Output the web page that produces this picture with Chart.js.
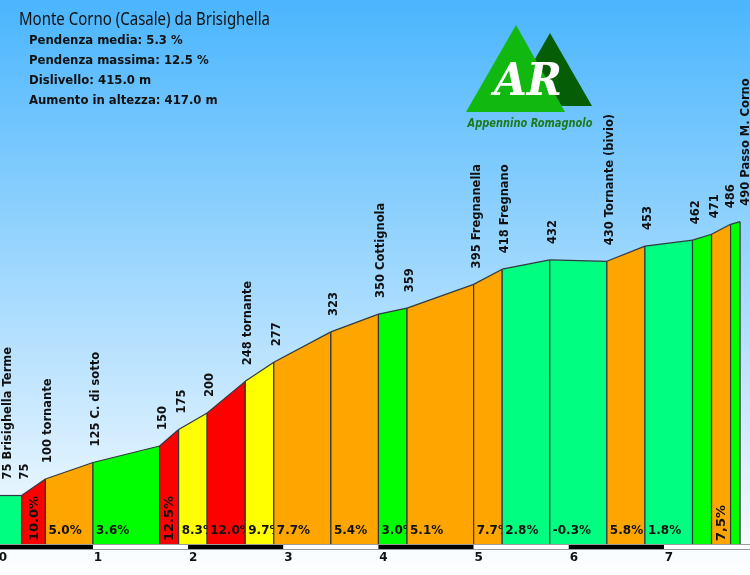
<!DOCTYPE html>
<html>
<head>
<meta charset="utf-8">
<script src="https://cdn.jsdelivr.net/npm/chart.js@4.4.0/dist/chart.umd.min.js"></script>
<style>
  html, body { margin: 0; padding: 0; }
  #wrap { position: relative; width: 750px; height: 575px; background: linear-gradient(#4ab5fd, #ffffff); overflow: hidden; }
  #profile { position: absolute; left: 0; top: 0; }
  #overlay { position: absolute; left: 0; top: 0; }
</style>
</head>
<body>
<div id="wrap">
  <canvas id="profile" width="750" height="575"></canvas>
  <svg id="overlay" width="750" height="140">
    <text x="19" y="25" font-family="Noto Sans, sans-serif" font-size="18" fill="#111" textLength="251" lengthAdjust="spacingAndGlyphs">Monte Corno (Casale) da Brisighella</text>
    <g font-family="DejaVu Sans, sans-serif" font-weight="bold" font-size="11.7" fill="#111">
      <text x="29" y="44">Pendenza media: 5.3 %</text>
      <text x="29" y="64">Pendenza massima: 12.5 %</text>
      <text x="29" y="84">Dislivello: 415.0 m</text>
      <text x="29" y="103.5">Aumento in altezza: 417.0 m</text>
    </g>
    <!-- logo -->
    <polygon points="508,106 550,33 592,106" fill="#055e05"/>
    <polygon points="466,112 516,25 565,112" fill="#10b810"/>
    <text x="528" y="95" text-anchor="middle" font-family="DejaVu Serif, serif" font-style="italic" font-weight="bold" font-size="44" fill="#fff" textLength="68" lengthAdjust="spacingAndGlyphs">AR</text>
    <text x="530" y="127" text-anchor="middle" font-family="DejaVu Sans, sans-serif" font-style="italic" font-weight="bold" font-size="12" fill="#1d7a1d" textLength="125" lengthAdjust="spacingAndGlyphs">Appennino Romagnolo</text>
  </svg>
</div>
<script>
// profilo altimetrico: km progressivi e quote dei punti
const km = [0, 0.25, 0.5, 1.0, 1.7, 1.9, 2.2, 2.6, 2.9, 3.5, 4.0, 4.3, 5.0, 5.3, 5.8, 6.4, 6.8, 7.3, 7.5, 7.7, 7.8];
const quote = [75, 75, 100, 125, 150, 175, 200, 248, 277, 323, 350, 359, 395, 418, 432, 430, 453, 462, 471, 486, 490];
const nomi = ["75 Brisighella Terme", "75", "100 tornante", "125 C. di sotto", "150", "175", "200", "248 tornante", "277",
  "323", "350 Cottignola", "359", "395 Fregnanella", "418 Fregnano", "432", "430 Tornante (bivio)", "453", "462", "471",
  "486", "490 Passo M. Corno"];
// etichette pendenza per tratto (vuote dove non scritte)
const pendenze = ["", "10.0%", "5.0%", "3.6%", "12.5%", "8.3%", "12.0%", "9.7%", "7.7%", "5.4%", "3.0%", "5.1%",
  "7.7%", "2.8%", "-0.3%", "5.8%", "1.8%", "", "7,5%", ""];
const kmTicks = [0, 1, 2, 3, 4, 5, 6, 7];

const EDGE = "#2f3a40";
const TEXT = "#111";

function gradeColor(g) {
  if (g >= 10) return "#ff0000";
  if (g >= 8) return "#ffff00";
  if (g >= 5) return "#ffa500";
  if (g >= 3) return "#00ff00";
  return "#00ff80";
}

const n = km.length - 1;
const datasets = [];
for (let i = 0; i < n; i++) {
  const g = Math.round(((quote[i + 1] - quote[i]) / ((km[i + 1] - km[i]) * 1000)) * 1000) / 10;
  datasets.push({
    data: [{ x: km[i], y: quote[i] }, { x: km[i + 1], y: quote[i + 1] }],
    backgroundColor: gradeColor(g),
    borderColor: EDGE,
    borderWidth: 1.2,
    fill: "origin",
    pointRadius: 0,
    tension: 0,
    order: n - i, // primo tratto disegnato per primo
  });
}

const profilePlugin = {
  id: "profile",
  afterDatasetDraw(chart, args) {
    const i = args.index;
    const { x, y } = chart.scales;
    const ctx = chart.ctx;
    const x0 = x.getPixelForValue(km[i]);
    const x1 = x.getPixelForValue(km[i + 1]);
    const base = y.getPixelForValue(0);
    ctx.save();
    ctx.strokeStyle = EDGE;
    ctx.lineWidth = 1.2;
    ctx.beginPath();
    ctx.moveTo(x0, y.getPixelForValue(quote[i]));
    ctx.lineTo(x0, base);
    ctx.moveTo(x1, y.getPixelForValue(quote[i + 1]));
    ctx.lineTo(x1, base);
    ctx.stroke();

    const txt = pendenze[i];
    if (txt) {
      ctx.fillStyle = TEXT;
      ctx.textBaseline = "middle";
      ctx.textAlign = "left";
      if (x1 - x0 < 25) {
        ctx.font = "bold 13px 'DejaVu Sans'";
        ctx.translate((x0 + x1) / 2 + 1, base - 4);
        ctx.rotate(-Math.PI / 2);
        ctx.fillText(txt, 0, 0);
      } else {
        ctx.font = "bold 12px 'DejaVu Sans'";
        ctx.fillText(txt, x0 + 3, base - 14);
      }
    }
    ctx.restore();
  },
  afterDatasetsDraw(chart) {
    const { x, y } = chart.scales;
    const ctx = chart.ctx;
    const area = chart.chartArea;
    const base = y.getPixelForValue(0);

    // nomi dei punti, verticali sopra il profilo (spostati se troppo vicini)
    const pos = km.map((k) => x.getPixelForValue(k) + 3);
    pos[0] = Math.max(pos[0], 8);
    const gap = 15;
    for (let i = 1; i < pos.length; i++) {
      const d = pos[i] - pos[i - 1];
      if (d < gap) {
        pos[i - 1] -= (gap - d) / 2;
        pos[i] += (gap - d) / 2;
      }
    }
    ctx.save();
    ctx.fillStyle = TEXT;
    ctx.font = "bold 11.5px 'DejaVu Sans'";
    ctx.textAlign = "left";
    ctx.textBaseline = "middle";
    nomi.forEach((name, i) => {
      const py = y.getPixelForValue(quote[i]) - 16;
      ctx.save();
      ctx.translate(pos[i], py);
      ctx.rotate(-Math.PI / 2);
      ctx.fillText(name, 0, 0);
      ctx.restore();
    });
    ctx.restore();

    // barra dei km a scacchi
    ctx.save();
    ctx.fillStyle = "#9a9a9a";
    ctx.fillRect(area.left, base - 1, area.right - area.left, 6);
    kmTicks.forEach((k) => {
      const a = x.getPixelForValue(k);
      const b = x.getPixelForValue(k + 1);
      ctx.fillStyle = k % 2 === 0 ? "#000" : "#fff";
      ctx.fillRect(a, base, b - a, 4);
    });
    ctx.fillStyle = TEXT;
    ctx.font = "bold 12px 'DejaVu Sans'";
    ctx.textAlign = "center";
    ctx.textBaseline = "middle";
    kmTicks.forEach((k) => {
      ctx.fillText(String(k), x.getPixelForValue(k) + 5, base + 13);
    });
    ctx.restore();
  },
};

new Chart(document.getElementById("profile"), {
  type: "line",
  data: { datasets },
  plugins: [profilePlugin],
  options: {
    responsive: false,
    animation: false,
    devicePixelRatio: 1,
    layout: { padding: { left: 0, right: 0, top: 0, bottom: 30 } },
    plugins: { legend: { display: false }, tooltip: { enabled: false }, title: { display: false } },
    scales: {
      x: { type: "linear", min: 0.023, max: 7.904, display: false },
      y: { min: 0, max: 826, display: false },
    },
  },
});
</script>
</body>
</html>
